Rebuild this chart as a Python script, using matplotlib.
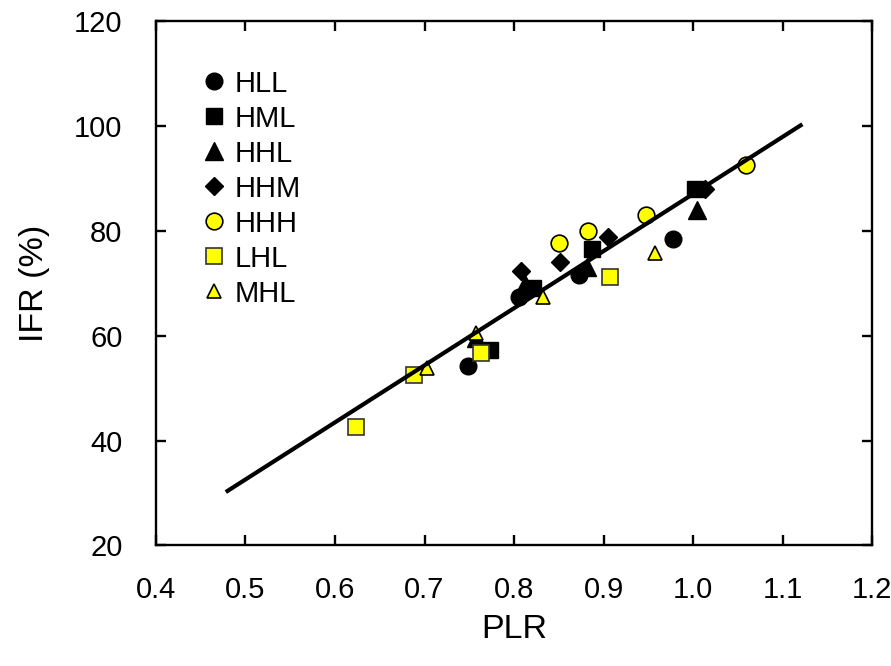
import numpy as np
import matplotlib
matplotlib.use("Agg")
import matplotlib.pyplot as plt

plt.rcParams['font.family'] = ['Liberation Sans', 'DejaVu Sans']

# PLR / IFR pairs for each group
hll_x = [0.749, 0.806, 0.873, 0.977]
hll_y = [54.3, 67.3, 71.6, 78.4]
hml_x = [0.773, 0.821, 0.887, 1.002]
hml_y = [57.3, 69.0, 76.5, 88.0]
hhl_x = [0.757, 0.812, 0.881, 1.004]
hhl_y = [59.5, 69.8, 73.0, 84.0]
hhm_x = [0.808, 0.851, 0.905, 1.013]
hhm_y = [72.3, 74.0, 78.9, 88.0]
hhh_x = [0.850, 0.883, 0.947, 1.059]
hhh_y = [77.6, 80.0, 83.0, 92.5]
lhl_x = [0.623, 0.688, 0.763, 0.907]
lhl_y = [42.6, 52.5, 56.6, 71.2]
mhl_x = [0.703, 0.758, 0.832, 0.957]
mhl_y = [53.9, 60.5, 67.3, 75.7]

# regression line end points
fit_x = [0.48, 1.12]
fit_y = [30.4, 100.1]

fig = plt.figure(figsize=(8.91, 6.66), dpi=100)
ax = fig.add_axes([0.175, 0.181, 0.804, 0.7875])

ax.plot(hll_x, hll_y, 'o', ms=12, mfc='black', mec='black', label='HLL')
ax.plot(hml_x, hml_y, 's', ms=12, mfc='black', mec='black', label='HML')
ax.plot(hhl_x, hhl_y, '^', ms=13, mfc='black', mec='black', label='HHL')
ax.plot(hhm_x, hhm_y, 'D', ms=9, mfc='black', mec='black', label='HHM')
ax.plot(hhh_x, hhh_y, 'o', ms=12, mfc='yellow', mec='black', mew=1.2, label='HHH')
ax.plot(lhl_x, lhl_y, 's', ms=12, mfc='yellow', mec='#333333', mew=1.2, label='LHL')
ax.plot(mhl_x, mhl_y, '^', ms=9.5, mfc='yellow', mec='black', mew=1.2, label='MHL')

ax.plot(fit_x, fit_y, '-', color='black', lw=3, zorder=5)

ax.set_xlim(0.4, 1.2)
ax.set_ylim(20, 120)
ax.set_xticks(np.arange(0.4, 1.21, 0.1))
ax.set_xticklabels(['0.4', '0.5', '0.6', '0.7', '0.8', '0.9', '1.0', '1.1', '1.2'])
ax.set_yticks([20, 40, 60, 80, 100, 120])

for s in ax.spines.values():
    s.set_linewidth(1.7)
ax.tick_params(direction='in', length=7.5, width=1.7, top=True, right=True,
               labelsize=21)
ax.tick_params(axis='x', pad=22)
ax.tick_params(axis='y', pad=24)

ax.set_xlabel('PLR', fontsize=24.5, labelpad=7)
ax.set_ylabel('IFR (%)', fontsize=24.5, labelpad=17)

ax.legend(loc='upper left', bbox_to_anchor=(0.045, 0.935), frameon=False,
          fontsize=21, handlelength=0.8, handletextpad=0.3,
          labelspacing=0.24, borderpad=0, numpoints=1)

plt.savefig('out.png', dpi=100)
plt.close()
